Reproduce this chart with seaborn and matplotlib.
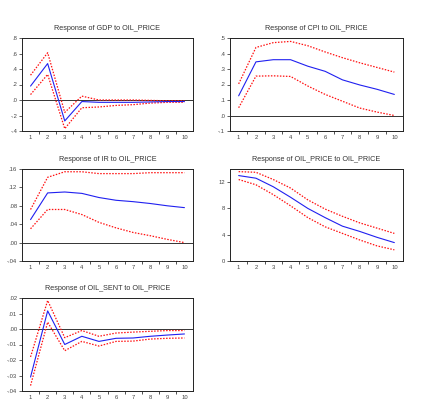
import numpy as np
import pandas as pd
import matplotlib
matplotlib.use("Agg")
import matplotlib.pyplot as plt
import seaborn as sns
from matplotlib.ticker import FuncFormatter

sns.set_style("white")
plt.rcParams["font.family"] = ["Liberation Sans", "DejaVu Sans"]

periods = list(range(1, 11))

gdp_resp = [0.18, 0.47, -0.27, -0.02, -0.03, -0.03, -0.03, -0.025, -0.02, -0.02]
gdp_upper = [0.32, 0.61, -0.16, 0.05, 0.0, 0.0, 0.0, -0.005, -0.01, -0.01]
gdp_lower = [0.07, 0.33, -0.37, -0.10, -0.09, -0.07, -0.06, -0.04, -0.03, -0.03]

cpi_resp = [0.127, 0.346, 0.36, 0.36, 0.318, 0.285, 0.23, 0.197, 0.169, 0.136]
cpi_upper = [0.204, 0.439, 0.47, 0.478, 0.45, 0.41, 0.373, 0.34, 0.31, 0.28]
cpi_lower = [0.05, 0.254, 0.256, 0.252, 0.19, 0.136, 0.092, 0.048, 0.022, 0.0]

ir_resp = [0.050, 0.108, 0.110, 0.107, 0.098, 0.092, 0.089, 0.085, 0.080, 0.076]
ir_upper = [0.072, 0.142, 0.154, 0.154, 0.150, 0.150, 0.150, 0.152, 0.152, 0.152]
ir_lower = [0.030, 0.072, 0.072, 0.061, 0.044, 0.032, 0.022, 0.015, 0.007, 0.0]

oil_resp = [13.0, 12.6, 11.3, 9.7, 8.0, 6.6, 5.3, 4.5, 3.6, 2.8]
oil_upper = [13.6, 13.5, 12.4, 11.1, 9.3, 7.9, 6.8, 5.8, 5.0, 4.2]
oil_lower = [12.4, 11.6, 10.1, 8.4, 6.6, 5.2, 4.2, 3.2, 2.3, 1.7]

sent_resp = [-0.031, 0.0117, -0.010, -0.0047, -0.008, -0.006, -0.0058, -0.0047, -0.0039, -0.0032]
sent_upper = [-0.018, 0.0184, -0.0056, -0.001, -0.0047, -0.0026, -0.002, -0.0015, -0.001, -0.001]
sent_lower = [-0.0365, 0.0044, -0.014, -0.008, -0.011, -0.008, -0.0078, -0.0065, -0.006, -0.0058]

panels = [
    ("Response of GDP to OIL_PRICE", gdp_resp, gdp_upper, gdp_lower, (-0.4, 0.8), 0.2, 1),
    ("Response of CPI to OIL_PRICE", cpi_resp, cpi_upper, cpi_lower, (-0.1, 0.5), 0.1, 1),
    ("Response of IR to OIL_PRICE", ir_resp, ir_upper, ir_lower, (-0.04, 0.16), 0.04, 2),
    ("Response of OIL_PRICE to OIL_PRICE", oil_resp, oil_upper, oil_lower, (0, 14), 4, 0),
    ("Response of OIL_SENT to OIL_PRICE", sent_resp, sent_upper, sent_lower, (-0.04, 0.02), 0.01, 2),
]

# axes boxes in pixels (left, top, right, bottom)
W, H = 424, 409
boxes = [
    (22, 38, 193, 131), (230, 38, 403, 131),
    (22, 169, 193, 261), (230, 169, 403, 261),
    (22, 298, 193, 391),
]


def eviews_fmt(dec):
    def f(v, pos):
        if dec == 0:
            return f"{v:.0f}"
        s = f"{v:.{dec}f}"
        if s.startswith("-0"):
            s = "-" + s[2:]
        elif s.startswith("0"):
            s = s[1:]
        return s
    return FuncFormatter(f)


fig = plt.figure(figsize=(W / 100, H / 100), dpi=100)

for (title, resp, up, lo, ylim, step, dec), (l, t, r, b) in zip(panels, boxes):
    ax = fig.add_axes([l / W, 1 - b / H, (r - l) / W, (b - t) / H])
    ax.axhline(0, color="#333333", lw=0.7, zorder=1)
    for band in (up, lo):
        sns.lineplot(x=periods, y=band, ax=ax, color="#ff1010", lw=0.9,
                     linestyle=(0, (1.2, 1.2)), dash_capstyle="butt")
    sns.lineplot(x=periods, y=resp, ax=ax, color="#2020f0", lw=0.8)
    ax.set_xlim(0.5, 10.5)
    ax.set_ylim(*ylim)
    ax.set_yticks(np.arange(ylim[0], ylim[1] + step / 2, step))
    ax.yaxis.set_major_formatter(eviews_fmt(dec))
    ax.set_xticks(periods)
    ax.set_xticks(np.arange(1.5, 10.5, 1), minor=True)
    ax.tick_params(axis="x", which="major", length=0, labelsize=4.2, colors="#444444", pad=3)
    ax.tick_params(axis="x", which="minor", length=2.5, width=0.6, color="#333333", direction="out", bottom=True)
    ax.tick_params(axis="y", length=2.5, width=0.6, labelsize=4.2, colors="#444444", pad=1, left=True)
    ax.set_xlabel("")
    ax.set_ylabel("")
    for s in ax.spines.values():
        s.set_color("#222222")
        s.set_linewidth(0.7)
    ax.set_title(title, fontsize=5.2, color="#333333", pad=6)

fig.savefig("out.png", dpi=100)
